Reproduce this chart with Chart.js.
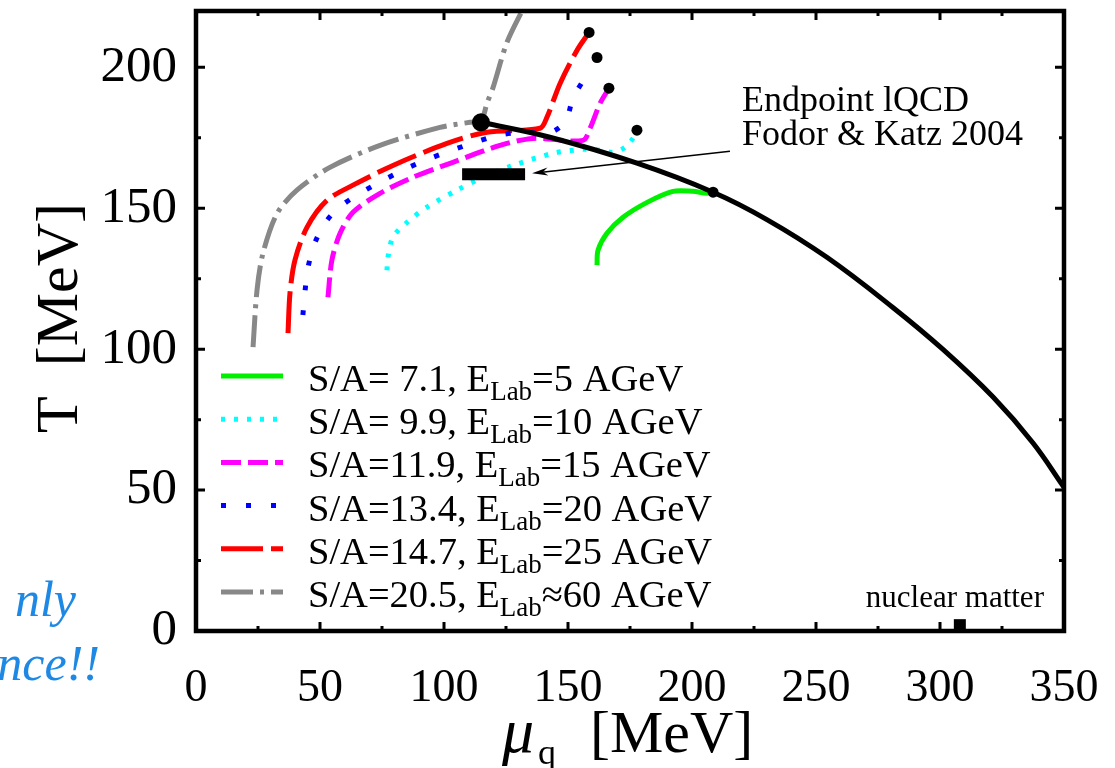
<!DOCTYPE html>
<html>
<head>
<meta charset="utf-8">
<script src="https://cdn.jsdelivr.net/npm/chart.js@4.4.1/dist/chart.umd.min.js"></script>
<style>
  body { margin: 0; background: #fff; }
  #wrap { width: 1115px; height: 768px; }
</style>
</head>
<body>
<div id="wrap"><canvas id="diagrama" width="1115" height="768"></canvas></div>
<script>
// ejes
const xTicks = [0, 25, 50, 75, 100, 125, 150, 175, 200, 225, 250, 275, 300, 325, 350];
const yTicks = [0, 25, 50, 75, 100, 125, 150, 175, 200];
const xLabels = [0, 50, 100, 150, 200, 250, 300, 350];
const yLabels = [0, 50, 100, 150, 200];

// linea de transicion (negra)
const bordeX = [114.9, 142.7, 177.8, 208.5, 230.2, 254.4, 281.0, 301.2, 321.4, 337.5, 350];
const bordeY = [180.5, 175.2, 166.0, 155.7, 146.0, 132.6, 114.8, 99.9, 83.0, 66.7, 51];

// trayectorias isentropicas
const verdeX = [161.7, 162.1, 165.7, 172.2, 181.9, 192.3, 200.4, 206.0, 208.5];
const verdeY = [129.8, 135.1, 141.1, 146.8, 152.1, 156.0, 156.0, 155.3, 155.7];
const cianX = [77.0, 77.4, 79.4, 85.1, 93.1, 105.2, 115.7, 127.8, 144.0, 156.0, 162.9, 168.1, 173.0, 176.2, 177.8];
const cianY = [128.0, 132.6, 139.7, 145.0, 150.4, 156.4, 161.0, 165.2, 169.5, 170.9, 170.6, 169.9, 171.6, 174.8, 177.7];
const magentaX = [53.2, 54.8, 58.1, 63.3, 74.2, 87.5, 103.6, 122.6, 135.9, 156.0, 158.9, 162.9, 166.5];
const magentaY = [118.4, 131.6, 141.1, 148.6, 155.3, 161.0, 166.3, 172.3, 174.8, 174.1, 178.4, 187.2, 192.6];
const azulX = [43.1, 44.0, 45.2, 48.0, 52.8, 58.9, 66.9, 75.4, 85.1, 93.5, 103.2, 112.5, 121.8, 131.9, 141.9, 148.8, 152.0, 156.9];
const azulY = [112.1, 120.9, 129.1, 137.9, 145.7, 151.1, 155.7, 159.9, 164.2, 167.4, 170.6, 173.4, 175.9, 177.0, 176.6, 180.5, 189.0, 196.5];
const rojoX = [37.1, 37.9, 39.9, 44.8, 52.8, 63.3, 79.4, 101.2, 117.3, 138.7, 141.5, 146.8, 153.6, 158.5];
const rojoY = [105.7, 119.9, 131.6, 143.3, 152.8, 158.2, 165.2, 173.0, 177.0, 178.4, 182.3, 194.3, 206.0, 212.4];
const grisX = [23.0, 24.6, 27.0, 32.7, 40.7, 54.0, 74.2, 98.4, 110.5, 114.9, 117.3, 119.8, 125.4, 132.6];
const grisY = [100.7, 120.9, 134.0, 148.2, 156.4, 164.5, 172.3, 178.7, 180.5, 180.9, 187.2, 192.9, 208.9, 222];

// puntos finales y punto critico
const finX = [208.5, 177.8, 166.5, 161.7, 158.5];
const finY = [155.7, 177.7, 192.6, 203.5, 212.4];
const criticoX = [114.9];
const criticoY = [180.5];

// lQCD (Fodor & Katz) y materia nuclear
const lqcdX = [107.3, 132.7];
const lqcdY = [162.1, 162.1];
const nuclearX = [308, 308];
const nuclearY = [0, 4.2];
const flechaX = [215.3, 135.5];
const flechaY = [170.2, 162.4];

// leyenda
const entropias = ['S/A= 7.1, E', 'S/A= 9.9, E', 'S/A=11.9, E', 'S/A=13.4, E', 'S/A=14.7, E', 'S/A=20.5, E'];
const energias = ['=5 AGeV', '=10 AGeV', '=15 AGeV', '=20 AGeV', '=25 AGeV', '\u224860 AGeV'];

function puntos(xs, ys) {
    return xs.map((v, i) => ({x: v, y: ys[i]}));
}

function curva(xs, ys, color, dash, orden) {
    return {
        data: puntos(xs, ys),
        showLine: true,
        borderColor: color,
        backgroundColor: color,
        borderWidth: 5,
        borderDash: dash,
        borderCapStyle: 'butt',
        pointRadius: 0,
        tension: 0.3,
        clip: 0,
        order: orden
    };
}

const curvas = [
    curva(verdeX, verdeY, '#00f000', [], 5),
    curva(cianX, cianY, '#00ffff', [4, 9], 6),
    curva(magentaX, magentaY, '#ff00ff', [20, 7], 7),
    curva(azulX, azulY, '#0000ff', [5, 20], 8),
    curva(rojoX, rojoY, '#ff0000', [42, 8], 9),
    curva(grisX, grisY, '#888888', [32, 7, 4, 7], 10)
];

const serif = '"Liberation Serif", "DejaVu Serif", serif';

const extras = {
    id: 'extras',
    afterDatasetsDraw(chart) {
        const {ctx, chartArea: a, scales: {x, y}} = chart;
        ctx.save();
        // flecha
        const x0 = x.getPixelForValue(flechaX[0]), y0 = y.getPixelForValue(flechaY[0]);
        const x1 = x.getPixelForValue(flechaX[1]), y1 = y.getPixelForValue(flechaY[1]);
        const ang = Math.atan2(y1 - y0, x1 - x0);
        ctx.strokeStyle = '#000';
        ctx.lineWidth = 1.5;
        ctx.beginPath(); ctx.moveTo(x0, y0); ctx.lineTo(x1 - 10 * Math.cos(ang), y1 - 10 * Math.sin(ang)); ctx.stroke();
        ctx.fillStyle = '#000';
        ctx.beginPath();
        ctx.moveTo(x1, y1);
        ctx.lineTo(x1 - 16 * Math.cos(ang) + 4 * Math.sin(ang), y1 - 16 * Math.sin(ang) - 4 * Math.cos(ang));
        ctx.lineTo(x1 - 11 * Math.cos(ang), y1 - 11 * Math.sin(ang));
        ctx.lineTo(x1 - 16 * Math.cos(ang) - 4 * Math.sin(ang), y1 - 16 * Math.sin(ang) + 4 * Math.cos(ang));
        ctx.closePath(); ctx.fill();

        // marco
        ctx.lineWidth = 4.5;
        ctx.strokeRect(a.left, a.top, a.right - a.left, a.bottom - a.top);
        // marcas hacia adentro
        ctx.lineWidth = 3;
        ctx.beginPath();
        xTicks.forEach(v => {
            const p = x.getPixelForValue(v);
            const len = xLabels.includes(v) ? 9 : 5;
            ctx.moveTo(p, a.bottom); ctx.lineTo(p, a.bottom - len);
            ctx.moveTo(p, a.top); ctx.lineTo(p, a.top + len);
        });
        yTicks.forEach(v => {
            const p = y.getPixelForValue(v);
            const len = yLabels.includes(v) ? 9 : 5;
            ctx.moveTo(a.left, p); ctx.lineTo(a.left + len, p);
            ctx.moveTo(a.right, p); ctx.lineTo(a.right - len, p);
        });
        ctx.stroke();
        ctx.restore();
    },
    afterDraw(chart) {
        const {ctx, chartArea: a, scales: {x, y}} = chart;
        ctx.save();
        ctx.fillStyle = '#000';
        ctx.textBaseline = 'alphabetic';

        // textos de anotacion
        ctx.font = '36px ' + serif;
        ctx.textAlign = 'left';
        ctx.fillText('Endpoint lQCD', x.getPixelForValue(220.2), y.getPixelForValue(184.4));
        ctx.fillText('Fodor & Katz 2004', x.getPixelForValue(220.2), y.getPixelForValue(172.3));
        ctx.font = '31px ' + serif;
        ctx.textAlign = 'center';
        ctx.fillText('nuclear matter', x.getPixelForValue(306), y.getPixelForValue(8.5));

        // leyenda
        curvas.forEach((ds, i) => {
            const cy = a.top + 365 + i * 43.2;
            ctx.save();
            ctx.strokeStyle = ds.borderColor;
            ctx.lineWidth = 5;
            ctx.setLineDash(ds.borderDash);
            ctx.beginPath(); ctx.moveTo(a.left + 25, cy); ctx.lineTo(a.left + 87, cy); ctx.stroke();
            ctx.restore();
            let tx = a.left + 112;
            const base = cy + 15;
            ctx.textAlign = 'left';
            ctx.font = '38.5px ' + serif;
            ctx.fillText(entropias[i], tx, base);
            tx += ctx.measureText(entropias[i]).width;
            ctx.font = '27px ' + serif;
            ctx.fillText('Lab', tx, base + 9);
            tx += ctx.measureText('Lab').width;
            ctx.font = '38.5px ' + serif;
            ctx.fillText(energias[i], tx, base);
        });

        // titulos de ejes
        ctx.textAlign = 'left';
        ctx.font = 'italic 64px ' + serif;
        ctx.fillText('\u03bc', 502, 752);
        ctx.font = '36px ' + serif;
        ctx.fillText('q', 538, 764);
        ctx.font = '60px ' + serif;
        ctx.fillText('[MeV]', 590, 752);

        ctx.save();
        ctx.translate(77, 318);
        ctx.rotate(-Math.PI / 2);
        ctx.textAlign = 'center';
        ctx.font = '60px ' + serif;
        ctx.fillText('T  [MeV]', 0, 0);
        ctx.restore();

        // texto cortado de la diapositiva
        ctx.fillStyle = '#1e88e5';
        ctx.font = 'italic 50px ' + serif;
        ctx.textAlign = 'right';
        ctx.fillText('nly', 76, 616);
        ctx.fillText('nce!!', 100, 680);
        ctx.restore();
    }
};

function sinRelleno(s) {
    s.paddingLeft = 0; s.paddingRight = 0; s.paddingTop = 0; s.paddingBottom = 0;
}

const ctx = document.getElementById('diagrama').getContext('2d');
new Chart(ctx, {
    type: 'scatter',
    data: {
        datasets: [
            {
                data: puntos(bordeX, bordeY),
                showLine: true,
                borderColor: '#000',
                borderWidth: 5,
                pointRadius: 0,
                tension: 0.4,
                clip: 0,
                order: 2
            },
            {
                data: puntos(finX, finY),
                backgroundColor: '#000',
                borderWidth: 0,
                pointRadius: 5.5,
                order: 0
            },
            {
                data: puntos(criticoX, criticoY),
                backgroundColor: '#000',
                borderWidth: 0,
                pointRadius: 9,
                order: 0
            },
            {
                data: puntos(lqcdX, lqcdY),
                showLine: true,
                borderColor: '#000',
                borderWidth: 12,
                borderCapStyle: 'butt',
                pointRadius: 0,
                order: 1
            },
            {
                data: puntos(nuclearX, nuclearY),
                showLine: true,
                borderColor: '#000',
                borderWidth: 12,
                borderCapStyle: 'butt',
                pointRadius: 0,
                order: 1
            },
            ...curvas
        ]
    },
    options: {
        responsive: false,
        animation: false,
        events: [],
        layout: {padding: {top: 11, right: 51, left: 0, bottom: 0}},
        plugins: {legend: {display: false}, tooltip: {enabled: false}},
        scales: {
            x: {
                type: 'linear',
                min: 0,
                max: 350,
                afterFit: s => { s.height = 137; sinRelleno(s); },
                afterBuildTicks: s => { s.ticks = xTicks.map(v => ({value: v})); },
                grid: {display: false, drawTicks: false},
                border: {display: false},
                ticks: {
                    autoSkip: false,
                    maxRotation: 0,
                    padding: 30,
                    color: '#000',
                    font: {family: serif, size: 46},
                    callback: v => xLabels.includes(v) ? String(v) : ''
                }
            },
            y: {
                type: 'linear',
                min: 0,
                max: 220,
                afterFit: s => { s.width = 196; sinRelleno(s); },
                afterBuildTicks: s => { s.ticks = yTicks.map(v => ({value: v})); },
                grid: {display: false, drawTicks: false},
                border: {display: false},
                ticks: {
                    autoSkip: false,
                    padding: 19,
                    color: '#000',
                    font: {family: serif, size: 51},
                    callback: v => yLabels.includes(v) ? String(v) : ''
                }
            }
        }
    },
    plugins: [extras]
});
</script>
</body>
</html>
